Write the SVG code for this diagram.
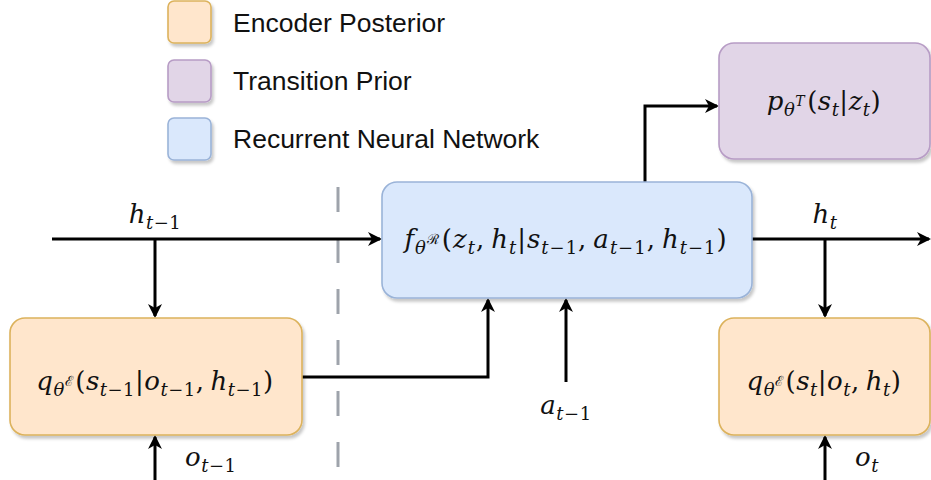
<svg xmlns="http://www.w3.org/2000/svg" width="931" height="480" viewBox="0 0 931 480">
<defs>
<filter id="sh" x="-10%" y="-10%" width="130%" height="130%">
<feDropShadow dx="2" dy="3" stdDeviation="1.6" flood-color="#000" flood-opacity="0.22"/>
</filter>
<marker id="ah" markerUnits="userSpaceOnUse" markerWidth="16" markerHeight="16" refX="12" refY="7" orient="auto">
<path d="M0,0 L14,7 L0,14 L4,7 z" fill="#000"/>
</marker>
</defs>
<style>
.leg{font-family:"Liberation Sans",Arial,sans-serif;font-size:26.5px;fill:#111}
.m{font-family:"DejaVu Serif","Liberation Serif",serif;font-size:26px;fill:#111;letter-spacing:0.5px}
.w{letter-spacing:1px}
.i{font-style:italic}
.sub{font-size:18px}
.ss{font-size:14px}
.or{fill:#ffe6cc;stroke:#dcb25c;stroke-width:1.6}
.pu{fill:#e1d5e7;stroke:#b79cc5;stroke-width:1.6}
.bl{fill:#dae8fc;stroke:#9ab3d8;stroke-width:1.6}
.ln{fill:none;stroke:#000;stroke-width:3}
</style>
<rect width="931" height="480" fill="#fff"/>

<g id="legend">
<rect class="or" x="168" y="1" width="43" height="42" rx="6" filter="url(#sh)"/>
<text class="leg" x="233" y="32">Encoder Posterior</text>
<rect class="pu" x="168" y="60" width="43" height="42" rx="6" filter="url(#sh)"/>
<text class="leg" x="233" y="90">Transition Prior</text>
<rect class="bl" x="168" y="118" width="43" height="42" rx="6" filter="url(#sh)"/>
<text class="leg" x="233" y="148">Recurrent Neural Network</text>
</g>

<line x1="338" y1="187" x2="338" y2="470" stroke="#9ea3ab" stroke-width="3" stroke-dasharray="25 26"/>

<g id="connectors">
<path class="ln" d="M52,239 H380" marker-end="url(#ah)"/>
<path class="ln" d="M155,239 V316" marker-end="url(#ah)"/>
<path class="ln" d="M155,480 V437" marker-end="url(#ah)"/>
<path class="ln" d="M302,377 H488 V300" marker-end="url(#ah)"/>
<path class="ln" d="M566,382 V300" marker-end="url(#ah)"/>
<path class="ln" d="M645,182 V106 H717" marker-end="url(#ah)"/>
<path class="ln" d="M752,239 H929" marker-end="url(#ah)"/>
<path class="ln" d="M825,239 V316" marker-end="url(#ah)"/>
<path class="ln" d="M825,480 V437" marker-end="url(#ah)"/>
</g>

<g id="lbl-htm1"><text class="m" x="155" y="223" text-anchor="middle"><tspan class="i">h</tspan><tspan class="sub" dy="6"><tspan class="i">t</tspan>−1</tspan></text></g>
<g id="lbl-ht"><text class="m" x="825" y="223" text-anchor="middle"><tspan class="i">h</tspan><tspan class="sub i" dy="6">t</tspan></text></g>
<g id="lbl-otm1"><text class="m" x="185" y="466"><tspan class="i">o</tspan><tspan class="sub" dy="6"><tspan class="i">t</tspan>−1</tspan></text></g>
<g id="lbl-ot"><text class="m" x="855" y="466"><tspan class="i">o</tspan><tspan class="sub i" dy="6">t</tspan></text></g>
<g id="lbl-atm1"><text class="m" x="566" y="414" text-anchor="middle"><tspan class="i">a</tspan><tspan class="sub" dy="6"><tspan class="i">t</tspan>−1</tspan></text></g>

<g id="q-prev">
<rect class="or" x="10" y="318" width="292" height="117" rx="15" filter="url(#sh)"/>
<text class="m" x="155" y="390" text-anchor="middle"><tspan class="i">q</tspan><tspan class="sub i" dy="6">θ</tspan><tspan class="ss" dy="-10">ℰ</tspan><tspan dy="4" dx="2">(</tspan><tspan class="i">s</tspan><tspan class="sub" dy="6"><tspan class="i">t</tspan>−1</tspan><tspan dy="-6">|</tspan><tspan class="i">o</tspan><tspan class="sub" dy="6"><tspan class="i">t</tspan>−1</tspan><tspan dy="-6">,</tspan><tspan class="i" dx="6">h</tspan><tspan class="sub" dy="6"><tspan class="i">t</tspan>−1</tspan><tspan dy="-6">)</tspan></text>
</g>

<g id="f-rnn">
<rect class="bl" x="382" y="182" width="370" height="116" rx="15" filter="url(#sh)"/>
<text class="m w" x="566" y="248" text-anchor="middle"><tspan class="i">f</tspan><tspan class="sub i" dy="6">θ</tspan><tspan class="ss" dy="-10">ℛ</tspan><tspan dy="4" dx="2">(</tspan><tspan class="i">z</tspan><tspan class="sub i" dy="6">t</tspan><tspan dy="-6">,</tspan><tspan class="i" dx="6">h</tspan><tspan class="sub i" dy="6">t</tspan><tspan dy="-6">|</tspan><tspan class="i">s</tspan><tspan class="sub" dy="6"><tspan class="i">t</tspan>−1</tspan><tspan dy="-6">,</tspan><tspan class="i" dx="6">a</tspan><tspan class="sub" dy="6"><tspan class="i">t</tspan>−1</tspan><tspan dy="-6">,</tspan><tspan class="i" dx="6">h</tspan><tspan class="sub" dy="6"><tspan class="i">t</tspan>−1</tspan><tspan dy="-6">)</tspan></text>
</g>

<g id="p-prior">
<rect class="pu" x="719" y="43" width="211" height="116" rx="15" filter="url(#sh)"/>
<text class="m" x="824" y="110" text-anchor="middle"><tspan class="i">p</tspan><tspan class="sub i" dy="6">θ</tspan><tspan class="ss i" dy="-10">T</tspan><tspan dy="4" dx="2">(</tspan><tspan class="i">s</tspan><tspan class="sub i" dy="6">t</tspan><tspan dy="-6">|</tspan><tspan class="i">z</tspan><tspan class="sub i" dy="6">t</tspan><tspan dy="-6">)</tspan></text>
</g>

<g id="q-cur">
<rect class="or" x="719" y="318" width="211" height="117" rx="15" filter="url(#sh)"/>
<text class="m" x="824" y="390" text-anchor="middle"><tspan class="i">q</tspan><tspan class="sub i" dy="6">θ</tspan><tspan class="ss" dy="-10">ℰ</tspan><tspan dy="4" dx="2">(</tspan><tspan class="i">s</tspan><tspan class="sub i" dy="6">t</tspan><tspan dy="-6">|</tspan><tspan class="i">o</tspan><tspan class="sub i" dy="6">t</tspan><tspan dy="-6">,</tspan><tspan class="i" dx="6">h</tspan><tspan class="sub i" dy="6">t</tspan><tspan dy="-6">)</tspan></text>
</g>
</svg>
